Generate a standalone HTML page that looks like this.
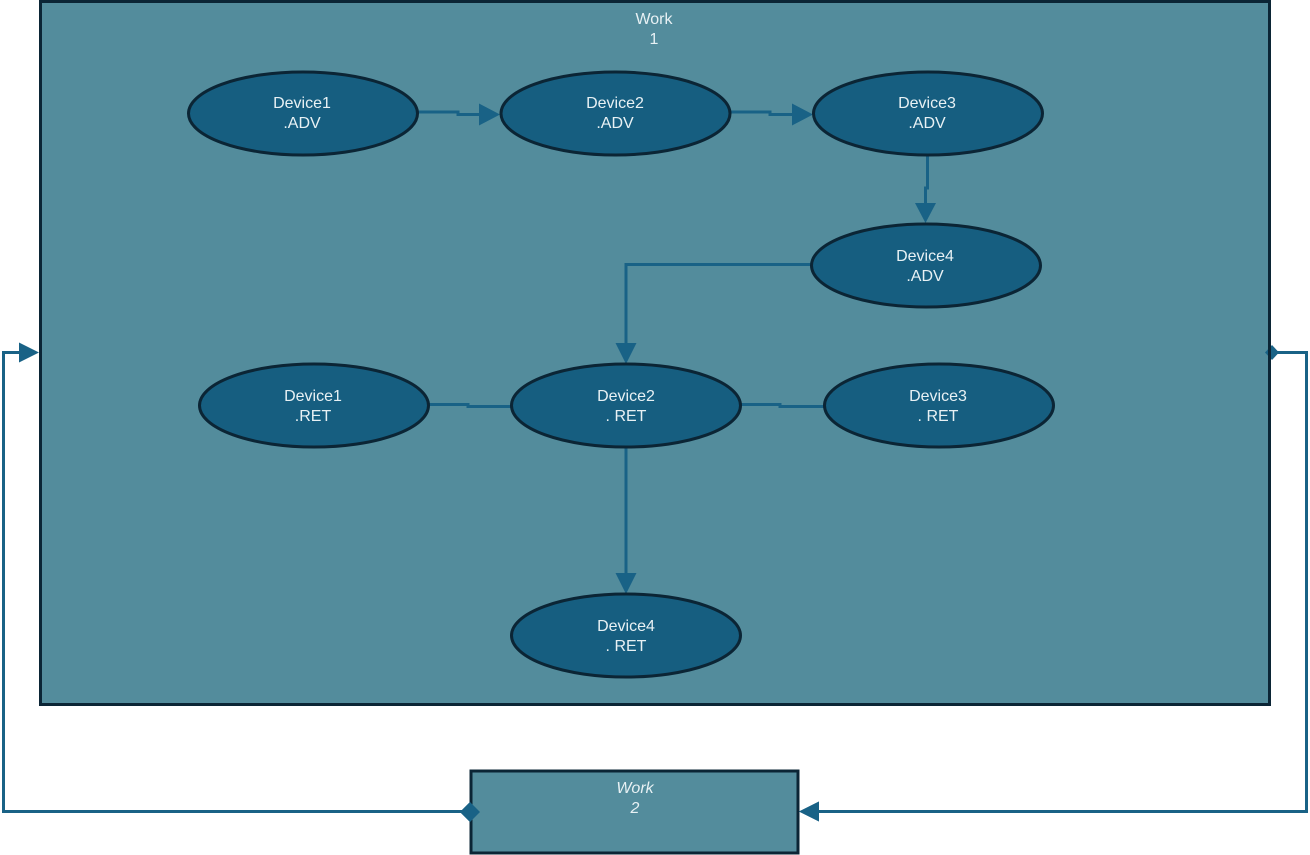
<!DOCTYPE html>
<html><head><meta charset="utf-8"><style>
html,body{margin:0;padding:0;background:#fff;width:1310px;height:855px;overflow:hidden}
svg{display:block}
text{font-family:"Liberation Sans",sans-serif;font-size:16px;fill:#e8f1f4}
</style></head><body>
<svg width="1310" height="855" viewBox="0 0 1310 855" xmlns="http://www.w3.org/2000/svg">
<!-- big box -->
<rect x="40.5" y="1.5" width="1229" height="703" fill="#538c9c" stroke="#0b2535" stroke-width="3"/>
<text x="654" y="24" text-anchor="middle">Work</text>
<text x="654" y="44" text-anchor="middle">1</text>

<g fill="none" stroke="#196286" stroke-width="3">
<!-- D1ADV -> D2ADV -->
<polyline points="418,112 458,112 458,114.5 482,114.5"/>
<!-- D2ADV -> D3ADV -->
<polyline points="731,112 770,112 770,114.5 795,114.5"/>
<!-- D3ADV -> D4ADV -->
<polyline points="927.5,155 927.5,188 925.5,188 925.5,206"/>
<!-- D4ADV -> D2RET -->
<polyline points="811,264.5 626,264.5 626,346"/>
<!-- D1RET - D2RET -->
<polyline points="429,404.5 468,404.5 468,406.5 511,406.5"/>
<!-- D2RET - D3RET -->
<polyline points="741,404.5 780,404.5 780,406.5 824,406.5"/>
<!-- D2RET -> D4RET -->
<polyline points="626,447 626,576"/>
<!-- left loop -->
<polyline points="462,811.5 3.5,811.5 3.5,352.5 22,352.5"/>
<!-- right loop -->
<polyline points="1274,352.5 1306.5,352.5 1306.5,811.5 818,811.5"/>
</g>
<g fill="#196286">
<polygon points="479,103.5 500,114.5 479,125.5"/>
<polygon points="792,103.5 813,114.5 792,125.5"/>
<polygon points="915,203 936,203 925.5,223"/>
<polygon points="615.5,343 636.5,343 626,364"/>
<polygon points="615.5,573 636.5,573 626,594"/>
<polygon points="19,342.5 39,352.5 19,362.5"/>
<polygon points="819,801.5 799,811.5 819,821.5"/>
<polygon points="460,812 470,802 480,812 470,822"/>
<polygon points="1265,352.5 1272,345 1279,352.5 1272,360"/>
</g>
<!-- re-draw box right border over marker -->
<line x1="1269.5" y1="340" x2="1269.5" y2="365" stroke="#0b2535" stroke-width="3"/>

<g fill="#165e80" stroke="#0b2535" stroke-width="3">
<ellipse cx="303" cy="113.5" rx="114.5" ry="41.5"/>
<ellipse cx="615.5" cy="113.5" rx="114.5" ry="41.5"/>
<ellipse cx="928" cy="113.5" rx="114.5" ry="41.5"/>
<ellipse cx="926" cy="265.5" rx="114.5" ry="41.5"/>
<ellipse cx="314" cy="405.5" rx="114.5" ry="41.5"/>
<ellipse cx="626" cy="405.5" rx="114.5" ry="41.5"/>
<ellipse cx="939" cy="405.5" rx="114.5" ry="41.5"/>
<ellipse cx="626" cy="635.5" rx="114.5" ry="41.5"/>
</g>
<g text-anchor="middle">
<text x="302" y="108">Device1</text><text x="302" y="128">.ADV</text>
<text x="615" y="108">Device2</text><text x="615" y="128">.ADV</text>
<text x="927" y="108">Device3</text><text x="927" y="128">.ADV</text>
<text x="925" y="261">Device4</text><text x="925" y="281">.ADV</text>
<text x="313" y="401">Device1</text><text x="313" y="421">.RET</text>
<text x="626" y="401">Device2</text><text x="626" y="421">. RET</text>
<text x="938" y="401">Device3</text><text x="938" y="421">. RET</text>
<text x="626" y="631">Device4</text><text x="626" y="651">. RET</text>
</g>

<!-- work 2 box -->
<rect x="471" y="771" width="327" height="82" fill="#538c9c" stroke="#0b2535" stroke-width="3"/>
<polygon points="460,812 470,802 480,812 470,822" fill="#196286"/>
<polygon points="819,801.5 799,811.5 819,821.5" fill="#196286"/>
<text x="635" y="793" text-anchor="middle" font-style="italic">Work</text>
<text x="635" y="813" text-anchor="middle" font-style="italic">2</text>
</svg>
</body></html>
